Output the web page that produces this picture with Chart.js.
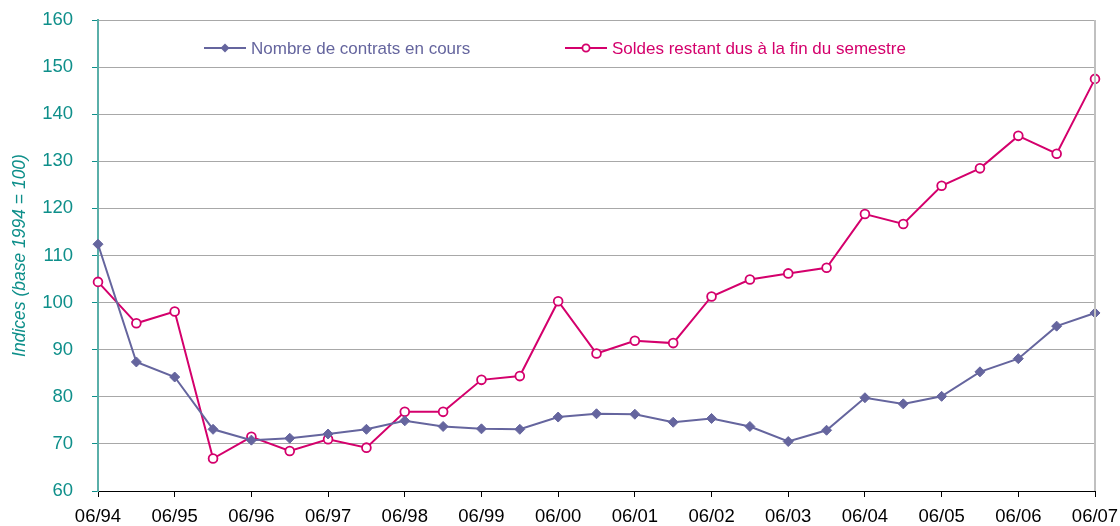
<!DOCTYPE html>
<html>
<head>
<meta charset="utf-8">
<script src="https://cdn.jsdelivr.net/npm/chart.js@4/dist/chart.umd.min.js"></script>
<style>
  html, body { margin: 0; padding: 0; background: #ffffff; }
  #wrap { width: 1120px; height: 526px; position: relative; }
</style>
</head>
<body>
<div id="wrap"><canvas id="c" width="1120" height="526"></canvas></div>
<script>
// Semesters (June / December) from 06/94 to 06/07
const semesters = ['06/94','12/94','06/95','12/95','06/96','12/96','06/97','12/97','06/98','12/98','06/99','12/99','06/00','12/00','06/01','12/01','06/02','12/02','06/03','12/03','06/04','12/04','06/05','12/05','06/06','12/06','06/07'];
const contratsEnCours = [112.4, 87.4, 84.2, 73.1, 70.8, 71.2, 72.1, 73.1, 74.9, 73.7, 73.2, 73.1, 75.7, 76.4, 76.3, 74.6, 75.4, 73.7, 70.5, 72.9, 79.8, 78.5, 80.1, 85.3, 88.1, 95.0, 97.8];
const soldesRestantDus = [104.4, 95.6, 98.1, 66.9, 71.5, 68.5, 71.0, 69.2, 76.8, 76.8, 83.6, 84.4, 100.3, 89.2, 91.9, 91.4, 101.3, 104.9, 106.2, 107.4, 118.8, 116.7, 124.8, 128.5, 135.4, 131.6, 147.5];
const seriesNames = ['Nombre de contrats en cours', 'Soldes restant dus à la fin du semestre'];
const yTitle = 'Indices (base 1994 = 100)';

const BLUE = '#65659E';
const PINK = '#D4006C';
const TEAL = '#0E8F8A';
const FONT = '"Liberation Sans", Arial, sans-serif';

const overlay = {
  id: 'overlay',
  afterDraw(chart) {
    const ctx = chart.ctx;
    const a = chart.chartArea;
    ctx.save();
    // right border
    ctx.strokeStyle = '#C0C0C0';
    ctx.lineWidth = 2;
    ctx.beginPath();
    ctx.moveTo(a.right, a.top);
    ctx.lineTo(a.right, a.bottom);
    ctx.stroke();
    // legend
    const ly = 48;
    const items = [
      { x: 204, color: BLUE, text: seriesNames[0], marker: 'diamond' },
      { x: 565, color: PINK, text: seriesNames[1], marker: 'circle' }
    ];
    ctx.font = '17px ' + FONT;
    ctx.textBaseline = 'middle';
    items.forEach(it => {
      ctx.strokeStyle = it.color;
      ctx.lineWidth = 2;
      ctx.beginPath();
      ctx.moveTo(it.x, ly);
      ctx.lineTo(it.x + 42, ly);
      ctx.stroke();
      const cx = it.x + 21;
      if (it.marker === 'diamond') {
        ctx.fillStyle = it.color;
        ctx.beginPath();
        ctx.moveTo(cx, ly - 4.5);
        ctx.lineTo(cx + 4.5, ly);
        ctx.lineTo(cx, ly + 4.5);
        ctx.lineTo(cx - 4.5, ly);
        ctx.closePath();
        ctx.fill();
      } else {
        ctx.fillStyle = '#fff';
        ctx.lineWidth = 1.8;
        ctx.beginPath();
        ctx.arc(cx, ly, 3.6, 0, Math.PI * 2);
        ctx.fill();
        ctx.stroke();
      }
      ctx.fillStyle = it.color;
      ctx.textAlign = 'left';
      ctx.fillText(it.text, it.x + 47, ly + 1);
    });
    ctx.restore();
  }
};

new Chart(document.getElementById('c'), {
  type: 'line',
  data: {
    labels: semesters,
    datasets: [
      {
        label: seriesNames[0],
        data: contratsEnCours,
        borderColor: BLUE,
        backgroundColor: BLUE,
        borderWidth: 2,
        pointStyle: 'rectRot',
        pointRadius: 5,
        pointBorderWidth: 1,
        pointBackgroundColor: BLUE,
        pointBorderColor: BLUE,
        tension: 0
      },
      {
        label: seriesNames[1],
        data: soldesRestantDus,
        borderColor: PINK,
        backgroundColor: '#ffffff',
        borderWidth: 2,
        pointStyle: 'circle',
        pointRadius: 4.4,
        pointBorderWidth: 1.8,
        pointBackgroundColor: '#ffffff',
        pointBorderColor: PINK,
        tension: 0
      }
    ]
  },
  options: {
    responsive: false,
    animation: false,
    devicePixelRatio: 1,
    layout: { padding: { top: 20, right: 25, left: 0, bottom: 0 } },
    plugins: { legend: { display: false }, tooltip: { enabled: false } },
    scales: {
      x: {
        type: 'category',
        offset: false,
        afterFit(s) { s.height = 35; s.paddingLeft = 0; s.paddingRight = 0; s.paddingTop = 0; s.paddingBottom = 0; },
        border: { display: true, color: '#000000', width: 1 },
        grid: {
          drawOnChartArea: false,
          drawTicks: true,
          tickLength: 6,
          color: c => (c.index % 2 === 0 ? '#000000' : 'rgba(0,0,0,0)')
        },
        ticks: {
          autoSkip: false,
          maxRotation: 0,
          minRotation: 0,
          padding: 9,
          color: '#000000',
          font: { family: FONT, size: 18.5 },
          callback: function (v, i) { return i % 2 === 0 ? this.getLabelForValue(v) : ''; }
        }
      },
      y: {
        min: 60,
        max: 160,
        afterFit(s) { s.width = 98; s.paddingTop = 0; s.paddingBottom = 0; s.paddingLeft = 0; s.paddingRight = 0; },
        border: { display: true, color: '#5AAFA9', width: 2 },
        grid: {
          color: '#A8A8A8',
          lineWidth: 1,
          drawTicks: true,
          tickLength: 6,
          tickColor: TEAL
        },
        ticks: {
          stepSize: 10,
          padding: 19,
          color: TEAL,
          font: { family: FONT, size: 18.5 }
        },
        title: {
          display: true,
          text: yTitle,
          color: TEAL,
          padding: { top: 10, bottom: 0 },
          font: { family: FONT, size: 17.5, style: 'italic' }
        }
      }
    }
  },
  plugins: [overlay]
});
</script>
</body>
</html>
